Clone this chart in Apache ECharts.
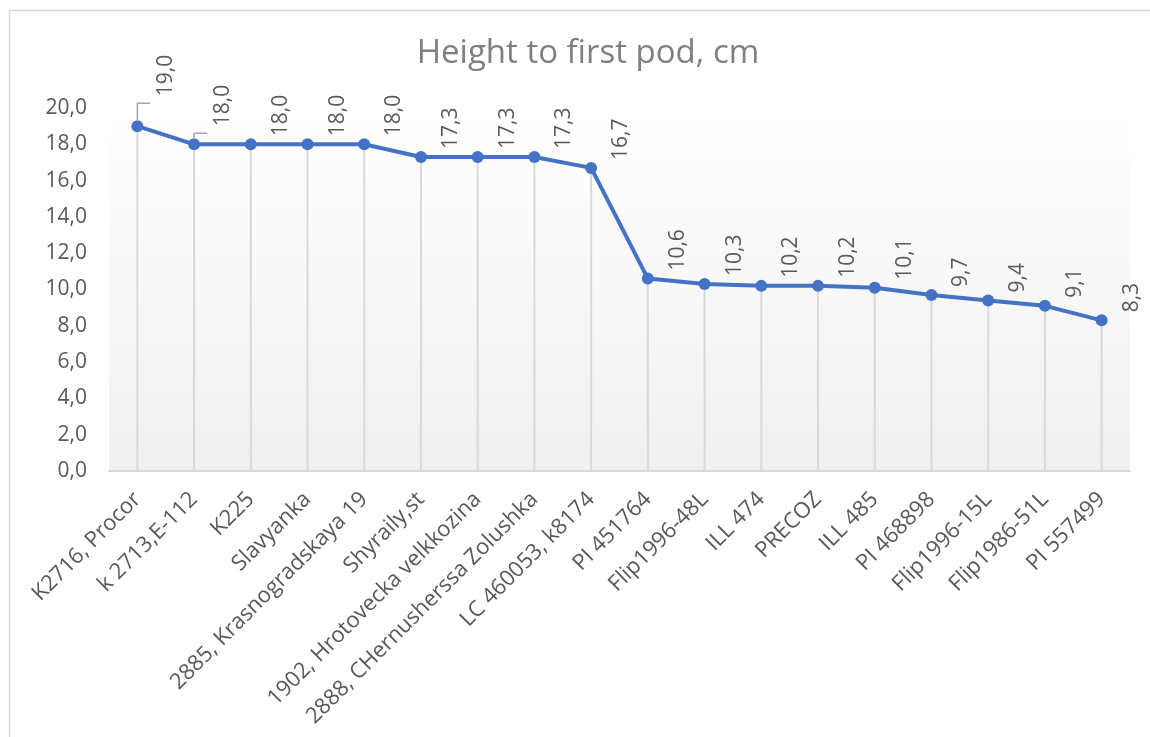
<!DOCTYPE html>
<html>
<head>
<meta charset="utf-8">
<script src="https://cdn.jsdelivr.net/npm/echarts@6/dist/echarts.min.js"></script>
<style>
  html, body { margin: 0; padding: 0; background: #fff; }
  #chart { width: 1150px; height: 737px; }
</style>
</head>
<body>
<div id="chart"></div>
<script>
// categories (varieties)
var varieties = [
  "K2716, Procor", "k 2713,E-112", "K225", "Slavyanka",
  "2885, Krasnogradskaya 19", "Shyraily,st", "1902, Hrotovecka velkkozina",
  "2888, CHernusherssa Zolushka", "LC 460053, k8174", "PI 451764",
  "Flip1996-48L", "ILL 474", "PRECOZ", "ILL 485", "PI 468898",
  "Flip1996-15L", "Flip1986-51L", "PI 557499"
];
// height to first pod, cm
var podHeight = [19.0, 18.0, 18.0, 18.0, 18.0, 17.3, 17.3, 17.3, 16.7,
  10.6, 10.3, 10.2, 10.2, 10.1, 9.7, 9.4, 9.1, 8.3];
var yTicks = [0, 20, 2];

var fontName = "'Open Sans', 'Noto Sans', sans-serif";
var textGray = "#595959";

// labels of the first two points are lifted and get a leader line
var lift = { 0: 22, 1: 10 };

var lineData = podHeight.map(function (v, i) {
  var d = { value: v };
  if (lift[i]) {
    d.label = { position: [35, -2 - lift[i]] };
  }
  return d;
});

var myChart = echarts.init(document.getElementById("chart"));
myChart.setOption({
  animation: false,
  title: {
    text: "Height to first pod, cm",
    left: 583,
    top: 32,
    textAlign: "center",
    textStyle: { fontFamily: fontName, fontSize: 33, fontWeight: "normal", color: "#7f7f7f" }
  },
  grid: {
    left: 109,
    right: 20,
    top: 108,
    bottom: 266,
    show: true,
    borderWidth: 0,
    backgroundColor: {
      type: "linear", x: 0, y: 0, x2: 0, y2: 1,
      colorStops: [
        { offset: 0, color: "#ffffff" },
        { offset: 1, color: "#f0f0f0" }
      ]
    }
  },
  xAxis: {
    type: "category",
    data: varieties,
    boundaryGap: true,
    axisLine: { lineStyle: { color: "#d9d9d9", width: 2 } },
    axisTick: { show: false },
    axisLabel: {
      rotate: 45,
      interval: 0,
      margin: 25,
      fontFamily: fontName,
      fontSize: 22,
      color: textGray
    }
  },
  yAxis: {
    type: "value",
    min: yTicks[0],
    max: yTicks[1],
    interval: yTicks[2],
    axisLine: { show: false },
    axisTick: { show: false },
    splitLine: { show: false },
    axisLabel: {
      margin: 22,
      fontFamily: fontName,
      fontSize: 21,
      color: textGray,
      formatter: function (v) { return v.toFixed(1).replace(".", ","); }
    }
  },
  series: [
    {
      // drop lines
      type: "bar",
      data: podHeight,
      barWidth: 2,
      silent: true,
      itemStyle: { color: "#d9d9d9" },
      z: 1
    },
    {
      type: "line",
      data: lineData,
      symbol: "circle",
      symbolSize: 12,
      lineStyle: { color: "#4472c4", width: 4 },
      itemStyle: { color: "#4472c4" },
      z: 3,
      label: {
        show: true,
        rotate: 90,
        position: [36, -2],
        align: "left",
        verticalAlign: "middle",
        fontFamily: fontName,
        fontSize: 21,
        color: textGray,
        formatter: function (p) { return p.value.toFixed(1).replace(".", ","); }
      }
    }
  ]
});

// leader lines and chart frame
var graphics = [{
  type: "rect",
  shape: { x: 9.5, y: 10.5, width: 1200, height: 800 },
  style: { fill: null, stroke: "#d9d9d9", lineWidth: 1.5 },
  silent: true,
  z: 0
}];
Object.keys(lift).forEach(function (k) {
  var i = +k;
  var p = myChart.convertToPixel({ xAxisIndex: 0, yAxisIndex: 0 }, [i, podHeight[i]]);
  var ly = p[1] - lift[i] - 1;
  graphics.push({
    type: "polyline",
    shape: { points: [[p[0], p[1] - 5], [p[0], ly], [p[0] + 13, ly]] },
    style: { fill: null, stroke: "#a6a6a6", lineWidth: 1.5 },
    silent: true,
    z: 10
  });
});
myChart.setOption({ graphic: graphics });
</script>
</body>
</html>
